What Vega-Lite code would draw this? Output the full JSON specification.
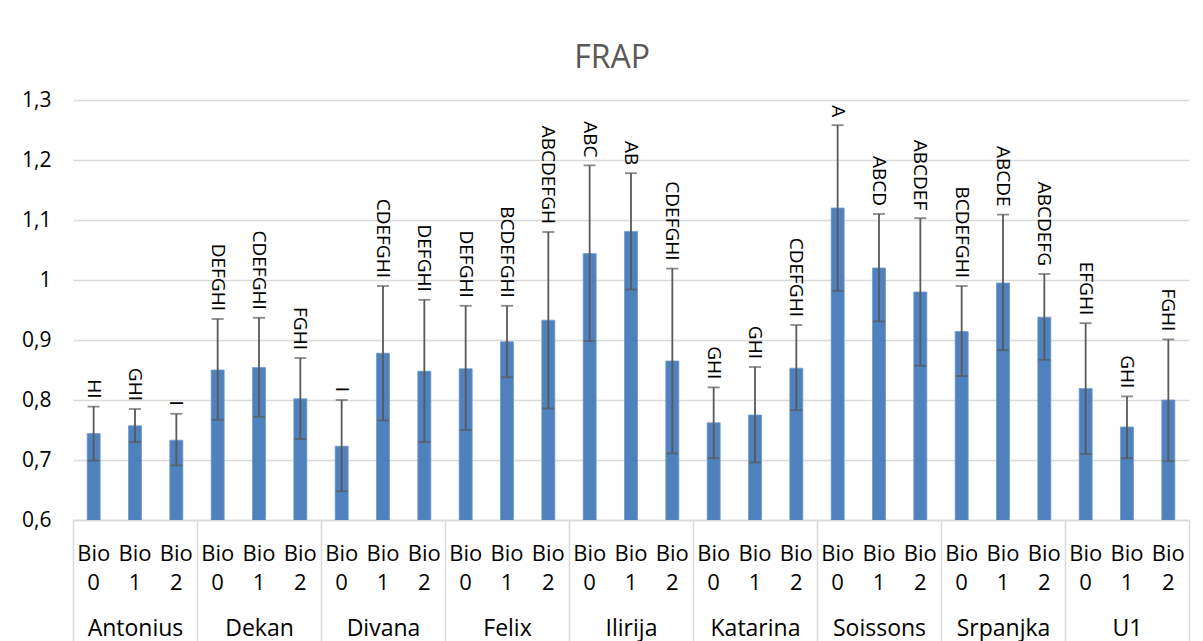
{
  "$schema": "https://vega.github.io/schema/vega-lite/v6.json",
  "autosize": {"type": "none"},
  "width": 1116,
  "height": 420,
  "padding": {"left": 73, "top": 100, "right": 14, "bottom": 121},
  "background": "white",
  "title": {"text": "FRAP", "font": "Open Sans", "fontSize": 32, "fontWeight": "normal", "color": "#595959", "anchor": "middle", "dx": -19, "baseline": "alphabetic", "offset": -11},
  "config": {
    "view": {"stroke": null},
    "font": "Open Sans"
  },
  "data": {"values": [
    {"cultivar": "Antonius", "key": "Antonius|Bio|0", "mean": 0.744, "lo": 0.699, "hi": 0.789, "grp": "HI"},
    {"cultivar": "Antonius", "key": "Antonius|Bio|1", "mean": 0.757, "lo": 0.730, "hi": 0.785, "grp": "GHI"},
    {"cultivar": "Antonius", "key": "Antonius|Bio|2", "mean": 0.733, "lo": 0.691, "hi": 0.777, "grp": "I"},
    {"cultivar": "Dekan", "key": "Dekan|Bio|0", "mean": 0.850, "lo": 0.767, "hi": 0.935, "grp": "DEFGHI"},
    {"cultivar": "Dekan", "key": "Dekan|Bio|1", "mean": 0.854, "lo": 0.772, "hi": 0.937, "grp": "CDEFGHI"},
    {"cultivar": "Dekan", "key": "Dekan|Bio|2", "mean": 0.802, "lo": 0.735, "hi": 0.870, "grp": "FGHI"},
    {"cultivar": "Divana", "key": "Divana|Bio|0", "mean": 0.723, "lo": 0.648, "hi": 0.800, "grp": "I"},
    {"cultivar": "Divana", "key": "Divana|Bio|1", "mean": 0.878, "lo": 0.766, "hi": 0.990, "grp": "CDEFGHI"},
    {"cultivar": "Divana", "key": "Divana|Bio|2", "mean": 0.848, "lo": 0.730, "hi": 0.967, "grp": "DEFGHI"},
    {"cultivar": "Felix", "key": "Felix|Bio|0", "mean": 0.852, "lo": 0.750, "hi": 0.957, "grp": "DEFGHI"},
    {"cultivar": "Felix", "key": "Felix|Bio|1", "mean": 0.897, "lo": 0.838, "hi": 0.957, "grp": "BCDEFGHI"},
    {"cultivar": "Felix", "key": "Felix|Bio|2", "mean": 0.933, "lo": 0.786, "hi": 1.080, "grp": "ABCDEFGH"},
    {"cultivar": "Ilirija", "key": "Ilirija|Bio|0", "mean": 1.044, "lo": 0.898, "hi": 1.191, "grp": "ABC"},
    {"cultivar": "Ilirija", "key": "Ilirija|Bio|1", "mean": 1.081, "lo": 0.984, "hi": 1.178, "grp": "AB"},
    {"cultivar": "Ilirija", "key": "Ilirija|Bio|2", "mean": 0.865, "lo": 0.711, "hi": 1.019, "grp": "CDEFGHI"},
    {"cultivar": "Katarina", "key": "Katarina|Bio|0", "mean": 0.762, "lo": 0.703, "hi": 0.821, "grp": "GHI"},
    {"cultivar": "Katarina", "key": "Katarina|Bio|1", "mean": 0.775, "lo": 0.696, "hi": 0.855, "grp": "GHI"},
    {"cultivar": "Katarina", "key": "Katarina|Bio|2", "mean": 0.853, "lo": 0.783, "hi": 0.925, "grp": "CDEFGHI"},
    {"cultivar": "Soissons", "key": "Soissons|Bio|0", "mean": 1.120, "lo": 0.982, "hi": 1.258, "grp": "A"},
    {"cultivar": "Soissons", "key": "Soissons|Bio|1", "mean": 1.020, "lo": 0.931, "hi": 1.110, "grp": "ABCD"},
    {"cultivar": "Soissons", "key": "Soissons|Bio|2", "mean": 0.980, "lo": 0.857, "hi": 1.103, "grp": "ABCDEF"},
    {"cultivar": "Srpanjka", "key": "Srpanjka|Bio|0", "mean": 0.914, "lo": 0.840, "hi": 0.990, "grp": "BCDEFGHI"},
    {"cultivar": "Srpanjka", "key": "Srpanjka|Bio|1", "mean": 0.995, "lo": 0.883, "hi": 1.109, "grp": "ABCDE"},
    {"cultivar": "Srpanjka", "key": "Srpanjka|Bio|2", "mean": 0.938, "lo": 0.867, "hi": 1.010, "grp": "ABCDEFG"},
    {"cultivar": "U1", "key": "U1|Bio|0", "mean": 0.819, "lo": 0.710, "hi": 0.928, "grp": "EFGHI"},
    {"cultivar": "U1", "key": "U1|Bio|1", "mean": 0.755, "lo": 0.703, "hi": 0.806, "grp": "GHI"},
    {"cultivar": "U1", "key": "U1|Bio|2", "mean": 0.800, "lo": 0.698, "hi": 0.901, "grp": "FGHI"}
  ]},
  "resolve": {"scale": {"x": "independent"}, "axis": {"x": "independent"}},
  "layer": [
    {
      "encoding": {
        "x": {
          "field": "key", "type": "nominal", "sort": null,
          "scale": {"paddingInner": 0.685, "paddingOuter": 0.3425},
          "axis": {
            "orient": "bottom", "title": null, "labelAngle": 0,
            "labelExpr": "slice(split(datum.label, '|'), 1)",
            "labelFont": "Open Sans", "labelFontSize": 22, "labelColor": "#000000",
            "labelLineHeight": 29, "labelPadding": 23, "labelBaseline": "top",
            "ticks": false, "tickSize": 0,
            "domain": true, "domainColor": "#d9d9d9", "domainWidth": 1.5
          }
        }
      },
      "layer": [
        {
          "mark": {"type": "bar", "color": "#4f81bd", "stroke": "#6f9ad0", "strokeWidth": 0.8, "clip": true},
          "encoding": {
            "y": {
              "field": "mean", "type": "quantitative",
              "scale": {"domain": [0.6, 1.3], "zero": false, "nice": false},
              "axis": {
                "title": null, "values": [0.6, 0.7, 0.8, 0.9, 1.0, 1.1, 1.2, 1.3],
                "labelExpr": "replace(format(datum.value, '~g'), '.', ',')",
                "labelFont": "Open Sans", "labelFontSize": 21, "labelColor": "#000000",
                "labelPadding": 22, "ticks": false, "tickSize": 0, "domain": false,
                "grid": true, "gridColor": "#d9d9d9", "gridWidth": 1.5
              }
            }
          }
        },
        {
          "mark": {"type": "rule", "color": "#595959", "strokeWidth": 1.8},
          "encoding": {
            "y": {"field": "lo", "type": "quantitative"},
            "y2": {"field": "hi"}
          }
        },
        {
          "mark": {"type": "tick", "color": "#595959", "thickness": 1.8, "size": 12},
          "encoding": {"y": {"field": "lo", "type": "quantitative"}}
        },
        {
          "mark": {"type": "tick", "color": "#595959", "thickness": 1.8, "size": 12},
          "encoding": {"y": {"field": "hi", "type": "quantitative"}}
        },
        {
          "mark": {"type": "text", "angle": 90, "align": "right", "baseline": "middle", "dx": -8, "font": "Open Sans", "fontSize": 19, "color": "#000000"},
          "encoding": {
            "y": {"field": "hi", "type": "quantitative"},
            "text": {"field": "grp"}
          }
        }
      ]
    },
    {
      "mark": {"type": "point", "opacity": 0},
      "encoding": {
        "x": {
          "field": "cultivar", "type": "nominal", "sort": null,
          "scale": {"paddingInner": 0, "paddingOuter": 0},
          "axis": {
            "orient": "bottom", "title": null, "labelAngle": 0,
            "labelFont": "Open Sans", "labelFontSize": 23, "labelColor": "#000000",
            "labelBaseline": "top", "labelPadding": -24,
            "tickBand": "extent", "ticks": true, "tickSize": 121, "tickColor": "#d9d9d9", "tickWidth": 1.5,
            "domain": false
          }
        }
      }
    }
  ]
}
